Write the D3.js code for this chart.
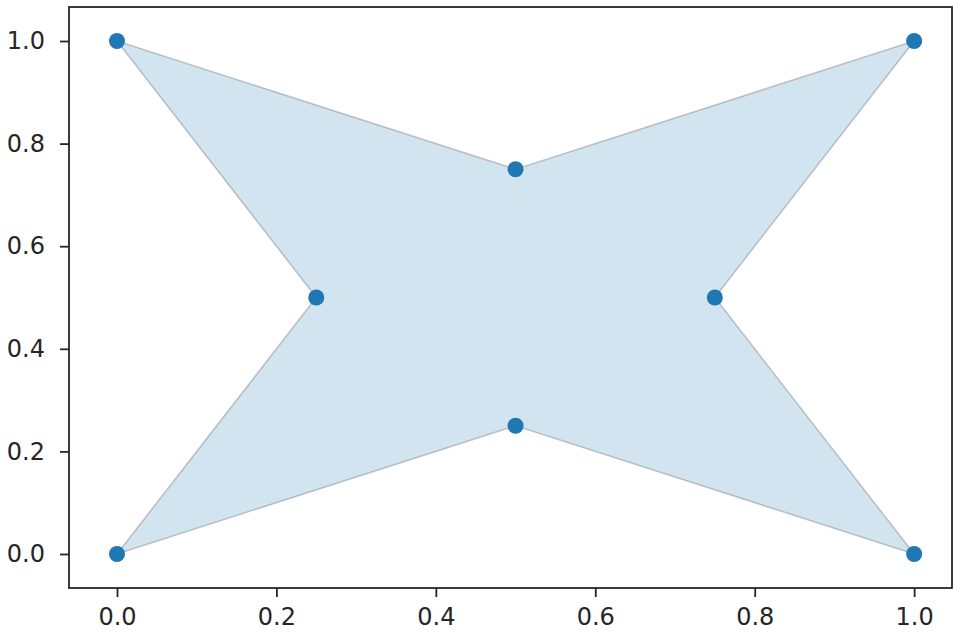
<!DOCTYPE html>
<html>
<head>
<meta charset="utf-8">
<script src="https://cdn.jsdelivr.net/npm/d3@7/dist/d3.min.js"></script>
<style>
  html, body { margin: 0; padding: 0; background: #fff; }
  svg { display: block; }
  .tick text { font-family: "DejaVu Sans", sans-serif; fill: #262626; }
</style>
</head>
<body>
<svg id="chart" width="953" height="635"></svg>
<script>
// Star-shaped polygon vertices, in drawing order
const xs = [0, 0.5, 1, 0.75, 1, 0.5, 0, 0.25];
const ys = [0, 0.25, 0, 0.5, 1, 0.75, 1, 0.5];
const xTicks = [0, 0.2, 0.4, 0.6, 0.8, 1.0];
const yTicks = [0, 0.2, 0.4, 0.6, 0.8, 1.0];

const svg = d3.select("#chart");
const frame = { left: 69, right: 952, top: 7, bottom: 588 };

const x = d3.scaleLinear().domain([-0.0602, 1.0475]).range([frame.left, frame.right]);
const y = d3.scaleLinear().domain([-0.0663, 1.0663]).range([frame.bottom, frame.top]);

const pts = xs.map((v, i) => [v, ys[i]]);

// Filled polygon
svg.append("path")
  .attr("d", d3.line().x(d => x(d[0])).y(d => y(d[1]))(pts) + "Z")
  .attr("fill", "#1f77b4")
  .attr("fill-opacity", 0.2)
  .attr("stroke", "#000")
  .attr("stroke-opacity", 0.2)
  .attr("stroke-width", 1.6);

// Vertex markers
svg.append("g").selectAll("circle").data(pts).join("circle")
  .attr("cx", d => x(d[0]))
  .attr("cy", d => y(d[1]))
  .attr("r", 8)
  .attr("fill", "#1f77b4");

// Axes
const fmt = d3.format(".1f");
const xAxis = svg.append("g")
  .attr("transform", `translate(0,${frame.bottom})`)
  .call(d3.axisBottom(x).tickValues(xTicks).tickFormat(fmt).tickSizeOuter(0).tickSize(9).tickPadding(11));
const yAxis = svg.append("g")
  .attr("transform", `translate(${frame.left},0)`)
  .call(d3.axisLeft(y).tickValues(yTicks).tickFormat(fmt).tickSizeOuter(0).tickSize(9).tickPadding(15));
[xAxis, yAxis].forEach(g => {
  g.select(".domain").remove();
  g.selectAll(".tick line").attr("stroke", "#262626").attr("stroke-width", 1.8);
  g.selectAll(".tick text").attr("font-size", 24);
});

// Frame spines
svg.append("rect")
  .attr("x", frame.left).attr("y", frame.top)
  .attr("width", frame.right - frame.left).attr("height", frame.bottom - frame.top)
  .attr("fill", "none").attr("stroke", "#262626").attr("stroke-width", 1.8);
</script>
</body>
</html>
